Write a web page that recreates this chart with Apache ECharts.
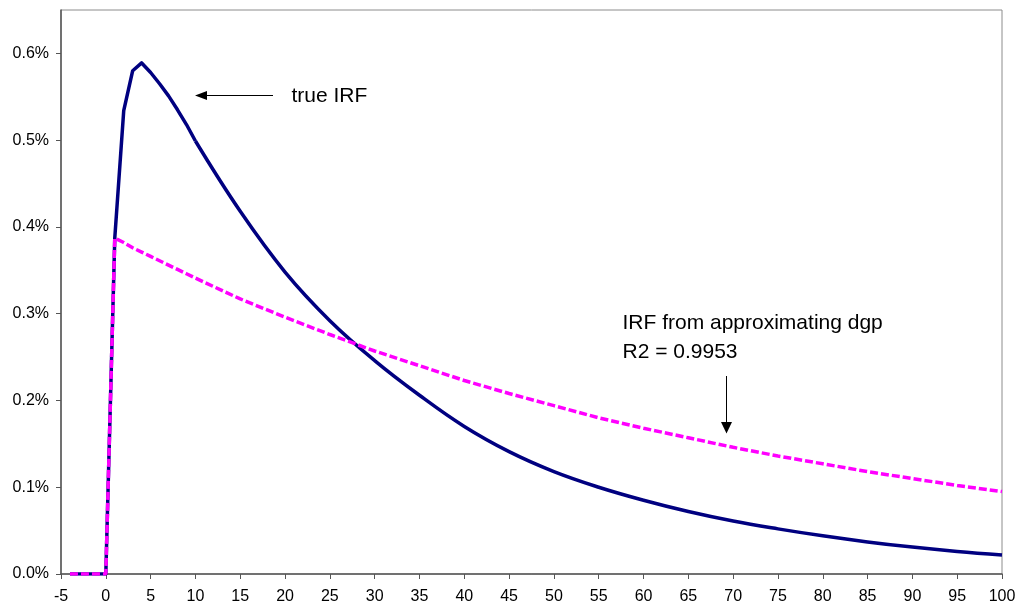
<!DOCTYPE html>
<html>
<head>
<meta charset="utf-8">
<script src="https://cdn.jsdelivr.net/npm/echarts@6/dist/echarts.min.js"></script>
<style>html,body{margin:0;padding:0;background:#fff}#c{width:1021px;height:612px}</style>
</head>
<body>
<div id="c"></div>
<script>
// periods (x values)
const periods = [-4,-3,-2,-1,0,1,2,3,4,5,6,7,8,9,10,15,20,25,30,35,40,45,50,55,60,65,70,75,80,85,90,95,100];
// true IRF (%)
const trueIRF = [0,0,0,0,0,0.387,0.534,0.580,0.589,0.578,0.565,0.551,0.535,0.518,0.499,0.418,0.348,0.292,0.246,0.206,0.170,0.141,0.118,0.100,0.085,0.072,0.061,0.052,0.044,0.037,0.031,0.026,0.022];
// IRF from approximating dgp (%)
const approxIRF = [0,0,0,0,0,0.387,0.382,0.376,0.371,0.366,0.361,0.356,0.351,0.346,0.341,0.317,0.296,0.276,0.257,0.240,0.223,0.208,0.194,0.180,0.168,0.157,0.146,0.136,0.127,0.118,0.110,0.102,0.095];
// y tick values (%)
const yTicks = [0,0.1,0.2,0.3,0.4,0.5,0.6];
const labelTrue = 'true IRF';
const labelApprox1 = 'IRF from approximating dgp';
const labelApprox2 = 'R2 = 0.9953';

const pairs = arr => periods.map((x, i) => [x, arr[i]]);
const truePairs = pairs(trueIRF);
const splitAt = periods.indexOf(10);
const FONT = '"Liberation Sans", Arial, sans-serif';
const BLUE = '#000080';

const chart = echarts.init(document.getElementById('c'), null, {renderer: 'canvas'});
chart.setOption({
  animation: false,
  backgroundColor: '#ffffff',
  grid: {left: 61, top: 10, right: 19, bottom: 38, show: true, borderColor: '#8c8c8c', borderWidth: 1, backgroundColor: 'transparent'},
  xAxis: {
    type: 'value', min: -5, max: 100, interval: 5,
    axisLine: {show: true, onZero: false, lineStyle: {color: '#555555', width: 1.5}},
    axisTick: {show: true, inside: false, length: 5, lineStyle: {color: '#555555', width: 1}},
    axisLabel: {color: '#000', fontFamily: FONT, fontSize: 16, margin: 15},
    splitLine: {show: false}
  },
  yAxis: {
    type: 'value', min: 0, max: 0.65, interval: 0.1,
    axisLine: {show: true, onZero: false, lineStyle: {color: '#555555', width: 1.5}},
    axisTick: {show: true, length: 5, customValues: yTicks, lineStyle: {color: '#555555', width: 1}},
    axisLabel: {color: '#000', fontFamily: FONT, fontSize: 16, margin: 12, customValues: yTicks,
      formatter: v => v.toFixed(1) + '%'},
    splitLine: {show: false}
  },
  series: [
    {type: 'line', name: 'true IRF', data: truePairs.slice(0, splitAt + 1), symbol: 'none', smooth: false,
      lineStyle: {color: BLUE, width: 3.5, join: 'round'}, z: 2},
    {type: 'line', name: 'true IRF tail', data: truePairs.slice(splitAt), symbol: 'none', smooth: 0.4,
      lineStyle: {color: BLUE, width: 3.5}, z: 2},
    {type: 'line', name: 'approx', data: pairs(approxIRF), symbol: 'none', smooth: false,
      lineStyle: {color: '#ff00ff', width: 3.5, type: [8, 3]}, z: 3}
  ],
  graphic: [
    {type: 'line', shape: {x1: 273, y1: 95.5, x2: 204, y2: 95.5}, style: {stroke: '#000', lineWidth: 1}},
    {type: 'polygon', shape: {points: [[195, 95.5], [207, 91], [207, 100]]}, style: {fill: '#000'}},
    {type: 'text', x: 291.5, y: 96, style: {text: labelTrue, font: '21px ' + FONT, fill: '#000', verticalAlign: 'middle', align: 'left'}},
    {type: 'text', x: 622.5, y: 323.5, style: {text: labelApprox1, font: '21px ' + FONT, fill: '#000', verticalAlign: 'middle', align: 'left'}},
    {type: 'text', x: 622.5, y: 352, style: {text: labelApprox2, font: '21px ' + FONT, fill: '#000', verticalAlign: 'middle', align: 'left'}},
    {type: 'line', shape: {x1: 726.5, y1: 376, x2: 726.5, y2: 424}, style: {stroke: '#000', lineWidth: 1}},
    {type: 'polygon', shape: {points: [[726.5, 433.5], [721, 422], [732, 422]]}, style: {fill: '#000'}}
  ]
});
</script>
</body>
</html>
